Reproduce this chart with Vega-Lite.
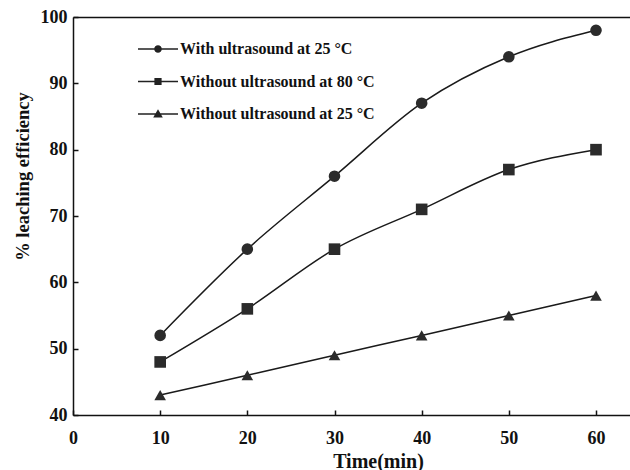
{
  "$schema": "https://vega.github.io/schema/vega-lite/v6.json",
  "width": 557,
  "height": 398,
  "autosize": "none",
  "padding": {"left": 73, "top": 17, "right": 0, "bottom": 55},
  "background": "white",
  "config": {
    "view": {"stroke": null},
    "font": "Liberation Serif"
  },
  "data": {
    "values": [
      {"time": 10, "value": 52, "series": "With ultrasound at 25 °C"},
      {"time": 20, "value": 65, "series": "With ultrasound at 25 °C"},
      {"time": 30, "value": 76, "series": "With ultrasound at 25 °C"},
      {"time": 40, "value": 87, "series": "With ultrasound at 25 °C"},
      {"time": 50, "value": 94, "series": "With ultrasound at 25 °C"},
      {"time": 60, "value": 98, "series": "With ultrasound at 25 °C"},
      {"time": 10, "value": 48, "series": "Without ultrasound at 80 °C"},
      {"time": 20, "value": 56, "series": "Without ultrasound at 80 °C"},
      {"time": 30, "value": 65, "series": "Without ultrasound at 80 °C"},
      {"time": 40, "value": 71, "series": "Without ultrasound at 80 °C"},
      {"time": 50, "value": 77, "series": "Without ultrasound at 80 °C"},
      {"time": 60, "value": 80, "series": "Without ultrasound at 80 °C"},
      {"time": 10, "value": 43, "series": "Without ultrasound at 25 °C"},
      {"time": 20, "value": 46, "series": "Without ultrasound at 25 °C"},
      {"time": 30, "value": 49, "series": "Without ultrasound at 25 °C"},
      {"time": 40, "value": 52, "series": "Without ultrasound at 25 °C"},
      {"time": 50, "value": 55, "series": "Without ultrasound at 25 °C"},
      {"time": 60, "value": 58, "series": "Without ultrasound at 25 °C"}
    ]
  },
  "layer": [
    {
      "mark": {"type": "line", "interpolate": "monotone", "color": "#1a1a1a", "strokeWidth": 1.5},
      "encoding": {
        "x": {
          "field": "time", "type": "quantitative",
          "scale": {"domain": [0, 63.9], "nice": false, "zero": false},
          "axis": {
            "values": [0, 10, 20, 30, 40, 50, 60],
            "grid": false,
            "domainColor": "#111", "domainWidth": 1.5,
            "tickColor": "#111", "tickWidth": 1.5, "tickSize": -5,
            "labelFont": "Liberation Serif", "labelFontSize": 18, "labelFontWeight": "bold", "labelColor": "#111",
            "labelBaseline": "middle", "labelPadding": 28, "labelFlush": false,
            "title": "Time(min)",
            "titleFont": "Liberation Serif", "titleFontSize": 20, "titleFontWeight": "bold", "titleColor": "#111",
            "titleX": 305, "titleY": 46, "titleBaseline": "middle", "titleAlign": "center"
          }
        },
        "y": {
          "field": "value", "type": "quantitative",
          "scale": {"domain": [40, 100], "nice": false, "zero": false},
          "axis": {
            "values": [40, 50, 60, 70, 80, 90, 100],
            "grid": false,
            "domainColor": "#111", "domainWidth": 1.5,
            "tickColor": "#111", "tickWidth": 1.5, "tickSize": -5,
            "labelFont": "Liberation Serif", "labelFontSize": 18, "labelFontWeight": "bold", "labelColor": "#111",
            "labelPadding": 11, "labelFlush": false,
            "title": "% leaching efficiency",
            "titleFont": "Liberation Serif", "titleFontSize": 18.5, "titleFontWeight": "bold", "titleColor": "#111",
            "titleAngle": -90, "titleX": -51, "titleY": 159, "titleBaseline": "middle", "titleAlign": "center"
          }
        },
        "detail": {"field": "series"}
      }
    },
    {
      "mark": {"type": "point", "filled": true, "color": "#2b2b2b", "opacity": 1, "size": 135},
      "encoding": {
        "x": {"field": "time", "type": "quantitative", "axis": null},
        "y": {"field": "value", "type": "quantitative"},
        "shape": {
          "field": "series", "type": "nominal",
          "scale": {
            "domain": ["With ultrasound at 25 °C", "Without ultrasound at 80 °C", "Without ultrasound at 25 °C"],
            "range": ["circle", "square", "triangle-up"]
          },
          "legend": null
        }
      }
    },
    {
      "mark": {"type": "point", "filled": true, "color": "#222222", "opacity": 0},
      "encoding": {
        "x": {
          "field": "time", "type": "quantitative",
          "axis": {"orient": "top", "labels": false, "ticks": false, "title": null, "grid": false, "domainColor": "#111", "domainWidth": 1.5}
        },
        "y": {"field": "value", "type": "quantitative"},
        "shape": {
          "field": "series", "type": "nominal",
          "scale": {
            "domain": ["With ultrasound at 25 °C", "Without ultrasound at 80 °C", "Without ultrasound at 25 °C"],
            "range": [
              "M-1,-0.0375H1V0.0375H-1ZM0.19,0A0.19,0.19,0,1,1,-0.19,0A0.19,0.19,0,1,1,0.19,0Z",
              "M-1,-0.0375H1V0.0375H-1ZM-0.18,-0.18H0.18V0.18H-0.18Z",
              "M-1,-0.0375H1V0.0375H-1ZM0,-0.24L0.24,0.17H-0.24Z"
            ]
          },
          "legend": {
            "orient": "none", "legendX": 65, "legendY": 12,
            "title": null,
            "symbolSize": 1600, "symbolOpacity": 1,
            "symbolFillColor": "#222222", "symbolStrokeWidth": 0,
            "labelFont": "Liberation Serif", "labelFontSize": 16, "labelFontWeight": "bold", "labelColor": "#111",
            "labelOffset": 2, "rowPadding": 4.5, "labelLimit": 400,
            "encode": {
              "symbols": {
                "fill": {"value": "#222222"},
                "opacity": {"value": 1}
              }
            }
          }
        }
      }
    }
  ],
  "resolve": {"scale": {"shape": "independent"}, "axis": {"x": "independent"}}
}
